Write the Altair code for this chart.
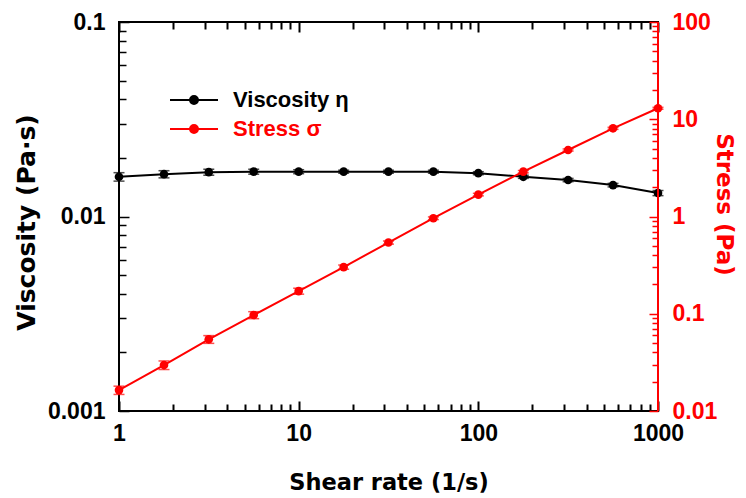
import altair as alt
import pandas as pd

# ---------------- data ----------------
shear_rate = [1, 1.78, 3.16, 5.62, 10, 17.8, 31.6, 56.2, 100, 178, 316, 562, 1000]
viscosity = [0.0160, 0.0165, 0.0169, 0.0170, 0.0170, 0.0170, 0.0170, 0.0170,
             0.0167, 0.0160, 0.0154, 0.0145, 0.0132]
viscosity_err = [0.0008, 0.0007, 0.0006, 0.0005, 0.0004, 0.0003, 0.0003, 0.0003,
                 0.0003, 0.0003, 0.0003, 0.0003, 0.0004]
stress = [0.0164, 0.0297, 0.0546, 0.097, 0.171, 0.302, 0.54, 0.96,
          1.68, 2.89, 4.83, 8.07, 12.97]
stress_err = [0.0016, 0.003, 0.005, 0.008, 0.012, 0.015, 0.02, 0.03,
              0.05, 0.08, 0.12, 0.2, 0.3]

series_names = ["Viscosity η", "Stress σ"]
series_colors = ["#000000", "#ff0000"]

x_major = [1, 10, 100, 1000]
x_major_labels = ["1", "10", "100", "1000"]
visc_major = [0.001, 0.01, 0.1]
visc_major_labels = ["0.001", "0.01", "0.1"]
stress_major = [0.01, 0.1, 1, 10, 100]
stress_major_labels = ["0.01", "0.1", "1", "10", "100"]
minor_multipliers = [2, 3, 4, 5, 6, 7, 8, 9]


def minors(majors):
    vals = []
    for m in majors[:-1]:
        for k in minor_multipliers:
            vals.append(float(f"{m * k:.10g}"))
    return vals


def label_expr(majors, labels):
    parts = " : ".join(f"datum.value == {float(v)!r} ? '{l}'" for v, l in zip(majors, labels))
    return parts + " : ''"


LABEL_FONT = "Liberation Sans"
TITLE_FONT = "DejaVu Sans"
SYMBOL_PATH = "M-8,0L8,0M-1.33,0A1.33,1.33,0,1,0,1.33,0A1.33,1.33,0,1,0,-1.33,0Z"
RED = series_colors[1]

visc_df = pd.DataFrame({
    "rate": shear_rate,
    "value": viscosity,
    "lo": [v - e for v, e in zip(viscosity, viscosity_err)],
    "hi": [v + e for v, e in zip(viscosity, viscosity_err)],
    "series": series_names[0],
})
stress_df = pd.DataFrame({
    "rate": shear_rate,
    "value": stress,
    "lo": [v - e for v, e in zip(stress, stress_err)],
    "hi": [v + e for v, e in zip(stress, stress_err)],
    "series": series_names[1],
})

x_scale = alt.Scale(type="log", domain=[1, 1000], nice=False)
visc_scale = alt.Scale(type="log", domain=[0.001, 0.1], nice=False)
stress_scale = alt.Scale(type="log", domain=[0.01, 100], nice=False)


def legend_color(i, legend_y):
    return alt.Color(
        "series:N",
        scale=alt.Scale(domain=[series_names[i]], range=[series_colors[i]]),
        legend=alt.Legend(
            title=None,
            orient="none",
            legendX=64,
            legendY=legend_y,
            padding=0,
            symbolType=SYMBOL_PATH,
            symbolSize=36,
            symbolStrokeWidth=2,
            symbolFillColor=series_colors[i],
            symbolStrokeColor=series_colors[i],
            symbolOpacity=1,
            labelOffset=28,
            labelFont=LABEL_FONT,
            labelFontSize=22,
            labelFontWeight="bold",
            labelColor=series_colors[i],
            labelLimit=300,
        ),
    )


common_label = dict(labelOverlap=False, labelFlush=False, labelFont=LABEL_FONT,
                    labelFontSize=23, labelFontWeight="bold", domain=False, grid=False)

# ---- x axes (ticks pointing inwards via negative offset) ----
x_bottom_major = alt.Axis(
    orient="bottom", values=x_major, labelExpr=label_expr(x_major, x_major_labels),
    offset=-10, tickSize=10, tickWidth=2, tickColor="black", labelPadding=11,
    labelColor="black", **common_label,
    title="Shear rate (1/s)", titleFont=TITLE_FONT, titleFontSize=22.5, titleFontWeight="bold",
    titleColor="black", titleBaseline="top", titleY=70,
)
x_bottom_minor = alt.Axis(
    orient="bottom", values=minors(x_major), labels=False, title=None, domain=False, grid=False,
    offset=-7, tickSize=7, tickWidth=2, tickColor="black",
)
x_top_major = alt.Axis(
    orient="top", values=x_major, labels=False, title=None, domain=False, grid=False,
    offset=-10, tickSize=10, tickWidth=2, tickColor="black",
)
x_top_minor = alt.Axis(
    orient="top", values=minors(x_major), labels=False, title=None, domain=False, grid=False,
    offset=-7, tickSize=7, tickWidth=2, tickColor="black",
)

# ---- y axes ----
visc_major_axis = alt.Axis(
    orient="left", values=visc_major, labelExpr=label_expr(visc_major, visc_major_labels),
    offset=-10, tickSize=10, tickWidth=1.5, tickColor="black", labelPadding=14,
    labelColor="black", **common_label,
    title="Viscosity (Pa·s)", titleFont=TITLE_FONT, titleFontSize=25, titleFontWeight="bold",
    titleColor="black", titleAngle=270, titleBaseline="middle", titleX=-103, titleY=200,
)
visc_minor_axis = alt.Axis(
    orient="left", values=minors(visc_major), labels=False, title=None, domain=False, grid=False,
    offset=-7, tickSize=7, tickWidth=1.5, tickColor="black",
)
stress_major_axis = alt.Axis(
    orient="right", values=stress_major, labelExpr=label_expr(stress_major, stress_major_labels),
    offset=-9, tickSize=9, tickWidth=1.5, tickColor=RED, labelPadding=14,
    labelColor=RED, **common_label,
    title="Stress (Pa)", titleFont=TITLE_FONT, titleFontSize=23, titleFontWeight="bold",
    titleColor=RED, titleAngle=90, titleBaseline="middle", titleX=74, titleY=182,
)
stress_minor_axis = alt.Axis(
    orient="right", values=minors(stress_major), labels=False, title=None, domain=False, grid=False,
    offset=-6, tickSize=6, tickWidth=1.5, tickColor=RED,
)

# ---- viscosity group ----
visc_err_layer = alt.Chart(visc_df).mark_errorbar(
    ticks=True, color="black", thickness=1.5, size=11
).encode(
    x=alt.X("rate:Q", scale=x_scale, axis=None),
    y=alt.Y("lo:Q", scale=visc_scale, axis=None),
    y2="hi:Q",
)
visc_line = alt.Chart(visc_df).mark_line(strokeWidth=2).encode(
    x=alt.X("rate:Q", scale=x_scale, axis=x_bottom_major),
    y=alt.Y("value:Q", scale=visc_scale, axis=visc_major_axis),
    color=legend_color(0, 67),
)
visc_points = alt.Chart(visc_df).mark_point(filled=True, size=75, opacity=1).encode(
    x=alt.X("rate:Q", scale=x_scale, axis=x_bottom_minor),
    y=alt.Y("value:Q", scale=visc_scale, axis=visc_minor_axis),
    color=legend_color(0, 67),
)

# ---- stress group ----
stress_err_layer = alt.Chart(stress_df).mark_errorbar(
    ticks=True, color=RED, thickness=1.5, size=11
).encode(
    x=alt.X("rate:Q", scale=x_scale, axis=None),
    y=alt.Y("lo:Q", scale=stress_scale, axis=None),
    y2="hi:Q",
)
stress_line = alt.Chart(stress_df).mark_line(strokeWidth=2).encode(
    x=alt.X("rate:Q", scale=x_scale, axis=x_top_major),
    y=alt.Y("value:Q", scale=stress_scale, axis=stress_major_axis),
    color=legend_color(1, 96),
)
stress_points = alt.Chart(stress_df).mark_point(filled=True, size=75, opacity=1).encode(
    x=alt.X("rate:Q", scale=x_scale, axis=x_top_minor),
    y=alt.Y("value:Q", scale=stress_scale, axis=stress_minor_axis),
    color=legend_color(1, 96),
)
# red right-hand frame edge, placed through the scales
stress_edge = alt.Chart(stress_df).mark_rule(color=RED, strokeWidth=2).encode(
    x=alt.X("max(rate):Q", scale=x_scale, axis=None),
    y=alt.YDatum(stress_major[0], axis=None),
    y2=alt.Y2Datum(stress_major[-1]),
)

visc_group = alt.layer(visc_err_layer, visc_line, visc_points).resolve_axis(
    x="independent", y="independent")
stress_group = alt.layer(stress_err_layer, stress_line, stress_points, stress_edge).resolve_axis(
    x="independent", y="independent")

chart = (
    alt.layer(visc_group, stress_group)
    .resolve_scale(y="independent", color="independent")
    .resolve_axis(x="independent", y="independent")
    .properties(
        width=539,
        height=389,
        padding={"left": 111, "top": 14, "right": 80, "bottom": 84},
        autosize=alt.AutoSizeParams(type="none"),
        background="white",
    )
    .configure_view(stroke="black", strokeWidth=2)
)

chart.save("out.html", embed_options={"renderer": "svg", "actions": False})
